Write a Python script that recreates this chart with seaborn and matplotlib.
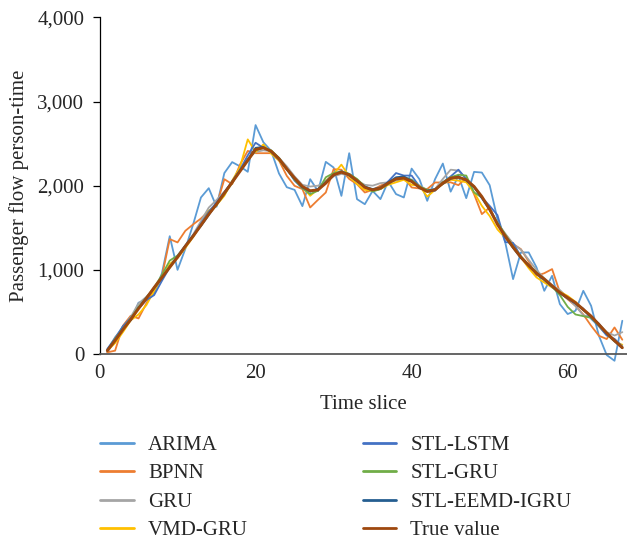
import numpy as np
import pandas as pd
import matplotlib
matplotlib.use("Agg")
import matplotlib.pyplot as plt
from matplotlib.ticker import FuncFormatter
import seaborn as sns

# time slices 1..67
time_slice = list(range(1, 68))

arima = [20, 170, 330, 400, 610, 640, 720, 960, 1400, 1000,
         1250, 1540, 1860, 1970, 1750, 2150, 2280, 2230, 2165, 2720,
         2516, 2413, 2145, 1982, 1950, 1757, 2077, 1935, 2283, 2216,
         1879, 2386, 1840, 1780, 1938, 1840, 2050, 1900, 1860, 2203,
         2077, 1820, 2077, 2263, 1929, 2116, 1852, 2164, 2156, 2006,
         1602, 1325, 890, 1207, 1207, 1030, 751, 929, 593, 475,
         514, 751, 573, 217, -12, -80, 395]

bpnn = [20, 40, 336, 455, 423, 600, 770, 920, 1365, 1326,
        1464, 1540, 1610, 1700, 1768, 2077, 2018, 2250, 2413, 2386,
        2386, 2386, 2300, 2117, 1998, 1960, 1741, 1832, 1919, 2196,
        2190, 2080, 2018, 1919, 1950, 2000, 2040, 2080, 2097, 1979,
        1967, 1960, 2038, 2038, 2040, 2006, 2097, 1899, 1662, 1741,
        1543, 1424, 1306, 1246, 1100, 929, 960, 1009, 732, 650,
        573, 470, 336, 217, 178, 316, 170]

gru = [40, 200, 310, 440, 600, 680, 780, 910, 1050, 1170,
       1290, 1420, 1580, 1740, 1830, 1930, 2040, 2180, 2320, 2400,
       2420, 2410, 2330, 2230, 2110, 2010, 1990, 2000, 2040, 2110,
       2140, 2120, 2060, 2010, 2000, 2030, 2040, 2060, 2080, 2070,
       2000, 1950, 1960, 2080, 2190, 2180, 2080, 1980, 1860, 1720,
       1560, 1430, 1310, 1240, 1120, 1000, 900, 820, 760, 670,
       570, 460, 440, 360, 260, 220, 260]

vmd_gru = [40, 130, 260, 400, 470, 580, 750, 900, 1070, 1140,
           1260, 1390, 1540, 1700, 1770, 1880, 2060, 2220, 2550, 2400,
           2490, 2380, 2300, 2190, 2080, 1990, 1880, 1960, 2060, 2140,
           2250, 2110, 2020, 1950, 1940, 1960, 2010, 2040, 2070, 2010,
           2000, 1870, 1950, 2020, 2070, 2060, 2040, 1920, 1760, 1640,
           1480, 1380, 1260, 1150, 1020, 910, 850, 790, 740, 690,
           620, 520, 450, 330, 230, 150, 110]

stl_lstm = [60, 190, 330, 430, 540, 640, 700, 870, 1030, 1160,
            1280, 1410, 1550, 1690, 1800, 1920, 2050, 2190, 2360, 2510,
            2450, 2410, 2330, 2200, 2060, 1970, 1930, 1960, 2050, 2140,
            2170, 2140, 2070, 1990, 1940, 1960, 2050, 2150, 2120, 2120,
            1990, 1940, 1940, 2040, 2110, 2190, 2080, 1990, 1860, 1760,
            1650, 1330, 1320, 1160, 1060, 970, 890, 810, 730, 660,
            600, 540, 420, 330, 220, 180, 90]

stl_gru = [40, 180, 300, 420, 560, 670, 790, 940, 1110, 1170,
           1280, 1400, 1530, 1660, 1770, 1900, 2030, 2180, 2300, 2420,
           2450, 2420, 2330, 2200, 2070, 1970, 1900, 1940, 2100, 2150,
           2170, 2140, 2080, 1990, 1930, 1960, 2020, 2080, 2100, 2070,
           1990, 1950, 1950, 2040, 2100, 2130, 2120, 1920, 1860, 1720,
           1560, 1420, 1280, 1160, 1060, 970, 880, 800, 700, 560,
           470, 450, 430, 340, 250, 160, 80]

stl_eemd_igru = [50, 170, 300, 400, 550, 670, 780, 900, 1040, 1160,
                 1290, 1410, 1520, 1650, 1790, 1920, 2050, 2180, 2310, 2450,
                 2460, 2400, 2310, 2190, 2080, 1980, 1930, 1960, 2040, 2120,
                 2170, 2120, 2050, 1990, 1960, 1980, 2040, 2100, 2110, 2060,
                 1970, 1940, 1960, 2020, 2080, 2110, 2060, 1980, 1850, 1710,
                 1550, 1390, 1260, 1140, 1060, 950, 880, 800, 720, 660,
                 600, 520, 440, 360, 240, 150, 70]

true_value = [40, 160, 290, 410, 540, 660, 790, 910, 1030, 1150,
              1280, 1400, 1530, 1660, 1780, 1910, 2040, 2170, 2300, 2430,
              2450, 2410, 2320, 2200, 2090, 1990, 1940, 1950, 2030, 2130,
              2160, 2130, 2060, 1980, 1950, 1970, 2030, 2080, 2090, 2050,
              1980, 1930, 1950, 2030, 2090, 2100, 2070, 1990, 1870, 1720,
              1540, 1400, 1270, 1150, 1050, 960, 890, 810, 730, 670,
              610, 530, 450, 350, 250, 160, 75]

series_names = ["ARIMA", "BPNN", "GRU", "VMD-GRU",
                "STL-LSTM", "STL-GRU", "STL-EEMD-IGRU", "True value"]
series_values = [arima, bpnn, gru, vmd_gru,
                 stl_lstm, stl_gru, stl_eemd_igru, true_value]
colors = ["#5B9BD5", "#ED7D31", "#A5A5A5", "#FFC000",
          "#4472C4", "#70AD47", "#255E91", "#9E480E"]

sns.set_style("white")
plt.rcParams["font.family"] = ["Liberation Serif", "DejaVu Serif"]

fig = plt.figure(figsize=(6.27, 5.40), dpi=100)
ax = fig.add_axes([0.1587, 0.3444, 0.8413, 0.6235])

for name, vals, col in zip(series_names, series_values, colors):
    lw = 2.1 if name == "True value" else 1.3
    sns.lineplot(x=time_slice, y=vals, ax=ax, color=col, linewidth=lw,
                 label=name)
# ARIMA dips a little under the axis in the original
ax.lines[0].set_clip_on(False)

ax.set_xlim(0, 67.6)
ax.set_ylim(0, 4000)
ax.set_xticks([0, 20, 40, 60])
ax.set_yticks([0, 1000, 2000, 3000, 4000])
ax.yaxis.set_major_formatter(FuncFormatter(lambda v, p: f"{int(v):,}"))

ax.tick_params(axis="y", direction="out", length=5, width=0.9, color="black",
               labelsize=15, pad=6, left=True)
ax.tick_params(axis="x", length=0, labelsize=15, pad=7)

for s in ["top", "right"]:
    ax.spines[s].set_visible(False)
ax.spines["left"].set_color("black")
ax.spines["left"].set_linewidth(0.9)
ax.spines["bottom"].set_color("#595959")
ax.spines["bottom"].set_linewidth(1.3)

ax.set_xlabel("Time slice", fontsize=15, labelpad=9)
ax.set_ylabel("Passenger flow person-time", fontsize=15, labelpad=6)

ax.legend(loc="upper left", bbox_to_anchor=(0.1595, 0.194),
          bbox_transform=fig.transFigure, ncol=2, frameon=False,
          fontsize=15, handlelength=1.63, handletextpad=0.67,
          columnspacing=5.5, labelspacing=0.43, borderpad=0,
          borderaxespad=0)
for h in ax.get_legend().get_lines():
    h.set_linewidth(2.0)

plt.savefig("out.png", dpi=100)
